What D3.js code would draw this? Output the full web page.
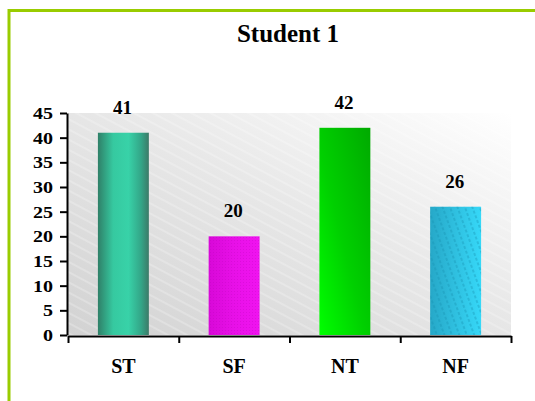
<!DOCTYPE html>
<html><head><meta charset="utf-8">
<script src="https://cdn.jsdelivr.net/npm/d3@7"></script>
<style>html,body{margin:0;padding:0;background:#fff;overflow:hidden}</style>
</head><body>
<script>
const title = "Student 1";
const categories = ["ST", "SF", "NT", "NF"];
const values = [41, 20, 42, 26];
const yTicks = [0, 5, 10, 15, 20, 25, 30, 35, 40, 45];

const W = 535, H = 401;
const svg = d3.select("body").append("svg").attr("width", W).attr("height", H);
const defs = svg.append("defs");
const serif = "'Times New Roman','Liberation Serif',serif";

function lin(id, x1, y1, x2, y2, stops) {
  const g = defs.append("linearGradient").attr("id", id)
    .attr("x1", x1).attr("y1", y1).attr("x2", x2).attr("y2", y2);
  stops.forEach(s => g.append("stop").attr("offset", s[0]).attr("stop-color", s[1]));
}
lin("bg", 0, 1, 1, 0, [[0, "#d2d2d2"], [0.55, "#e8e8e8"], [1, "#ffffff"]]);
lin("g0", 0, 0, 1, 0, [[0, "#2f8068"], [0.3, "#36c9a0"], [0.6, "#38d2a8"], [0.85, "#33a587"], [1, "#3c7a68"]]);
lin("g1", 0, 0, 1, 0, [[0, "#d808d8"], [0.5, "#e810e8"], [1, "#f014f0"]]);
lin("g2", 0, 1, 1, 0, [[0, "#00ff00"], [0.45, "#00d000"], [1, "#00aa00"]]);
lin("g3", 0, 0, 1, 0, [[0, "#26a8c8"], [0.5, "#2fc0e0"], [1, "#36d8f8"]]);

// background stripes
const ps = defs.append("pattern").attr("id", "bgStripes").attr("patternUnits", "userSpaceOnUse")
  .attr("width", 40).attr("height", 9).attr("patternTransform", "rotate(28)");
ps.append("line").attr("x1", 0).attr("x2", 40).attr("y1", 1).attr("y2", 1)
  .attr("stroke", "#fff").attr("stroke-width", 0.8).attr("stroke-opacity", 0.55);

// NF dashed stripes
const pn = defs.append("pattern").attr("id", "nfStripes").attr("patternUnits", "userSpaceOnUse")
  .attr("width", 7).attr("height", 40).attr("patternTransform", "rotate(-20)");
pn.append("line").attr("x1", 2).attr("x2", 2).attr("y1", 0).attr("y2", 40)
  .attr("stroke", "#1590b0").attr("stroke-width", 1).attr("stroke-dasharray", "3,2").attr("stroke-opacity", 0.7);

// magenta texture
const pm = defs.append("pattern").attr("id", "sfTex").attr("patternUnits", "userSpaceOnUse")
  .attr("width", 3).attr("height", 3);
pm.append("rect").attr("x", 0).attr("y", 0).attr("width", 1).attr("height", 1).attr("fill", "#b000b0").attr("opacity", 0.25);

// outer green frame
svg.append("rect").attr("x", 9).attr("y", 10.5).attr("width", W + 20).attr("height", H + 20)
  .attr("fill", "none").attr("stroke", "#99cc00").attr("stroke-width", 3);

const x0 = 68, x1 = 511, yTop = 113, yBot = 335;
const x = d3.scaleBand().domain(categories).range([x0, x1]).paddingInner(0.54).paddingOuter(0.27);
const xb = d3.scaleLinear().domain([0, categories.length]).range([x0, x1]);
const y = d3.scaleLinear().domain([0, 45]).range([yBot, yTop]);

// plot area
svg.append("rect").attr("x", x0).attr("y", y(45)).attr("width", x1 - x0).attr("height", y(0) - y(45)).attr("fill", "url(#bg)");
svg.append("rect").attr("x", x0).attr("y", y(45)).attr("width", x1 - x0).attr("height", y(0) - y(45)).attr("fill", "url(#bgStripes)");

// title
svg.append("text").attr("x", 288).attr("y", 42).attr("text-anchor", "middle")
  .attr("font-family", serif).attr("font-weight", "bold").attr("font-size", 25).text(title);

// bars
const bars = svg.append("g");
values.forEach((v, i) => {
  const c = categories[i];
  bars.append("rect").attr("x", x(c)).attr("y", y(v)).attr("width", x.bandwidth()).attr("height", y(0) - y(v))
    .attr("fill", "url(#g" + i + ")");
  if (i === 1) bars.append("rect").attr("x", x(c)).attr("y", y(v)).attr("width", x.bandwidth()).attr("height", y(0) - y(v)).attr("fill", "url(#sfTex)");
  if (i === 3) bars.append("rect").attr("x", x(c)).attr("y", y(v)).attr("width", x.bandwidth()).attr("height", y(0) - y(v)).attr("fill", "url(#nfStripes)");
  svg.append("text").attr("x", x(c) + x.bandwidth() / 2 - 1).attr("y", y(v) - 19).attr("text-anchor", "middle")
    .attr("font-family", serif).attr("font-weight", "bold").attr("font-size", 19).text(v);
});

// y axis
const ya = svg.append("g").attr("transform", `translate(${x0 - 1},0)`)
  .call(d3.axisLeft(y).tickValues(yTicks).tickSize(7).tickSizeOuter(0).tickFormat(""));
ya.select(".domain").attr("stroke", "#000").attr("stroke-width", 2);
ya.selectAll(".tick line").attr("stroke", "#000").attr("stroke-width", 2);
yTicks.forEach(t => {
  const s = String(t);
  svg.append("text").attr("x", 53).attr("y", y(t)).attr("dy", "0.35em").attr("text-anchor", "end")
    .attr("font-family", serif).attr("font-weight", "bold").attr("font-size", 17)
    .attr("textLength", s.length * 10).attr("lengthAdjust", "spacingAndGlyphs").text(s);
});

// x axis
const xa = svg.append("g").attr("transform", `translate(0,${yBot + 1})`)
  .call(d3.axisBottom(xb).ticks(categories.length).tickSize(7).tickSizeOuter(0).tickFormat(""));
xa.select(".domain").attr("stroke", "#000").attr("stroke-width", 2);
xa.selectAll(".tick line").attr("stroke", "#000").attr("stroke-width", 2);
categories.forEach(c => {
  svg.append("text").attr("x", x(c) + x.bandwidth() / 2).attr("y", 373).attr("text-anchor", "middle")
    .attr("font-family", serif).attr("font-weight", "bold").attr("font-size", 20).text(c);
});
</script>
</body></html>
